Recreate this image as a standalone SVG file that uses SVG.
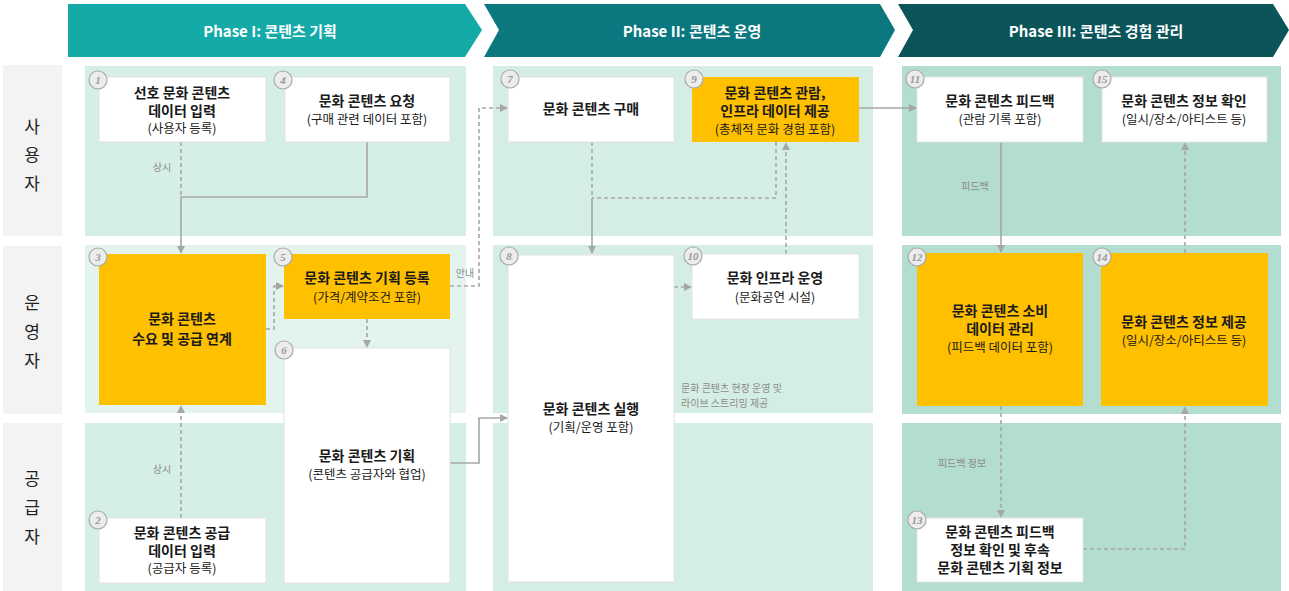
<svg xmlns="http://www.w3.org/2000/svg" width="1289" height="591" viewBox="0 0 1289 591">
<style>
text{font-family:"Noto Sans CJK KR","Noto Sans",sans-serif;}
.hdr{fill:#fff;font-size:15px;font-weight:bold;text-anchor:middle;dominant-baseline:central;}
.lane{fill:#222;font-size:17px;text-anchor:middle;dominant-baseline:central;}
.t{fill:#1a1a1a;font-size:14px;font-weight:bold;text-anchor:middle;dominant-baseline:central;}
.s{fill:#1a1a1a;font-size:12.5px;text-anchor:middle;dominant-baseline:central;}
.lbl{fill:#8c8c8c;font-size:10px;text-anchor:middle;dominant-baseline:central;}
.lbl2{fill:#8c8c8c;font-size:10px;dominant-baseline:central;}
.w{fill:#fff;stroke:#e2e2e2;stroke-width:1;}
.o{fill:#ffc000;}
.badge circle{fill:#ececec;stroke:#a9a9a9;stroke-width:1.2;}
.badge text{font-family:"Liberation Serif",serif;font-style:italic;font-weight:bold;font-size:11px;fill:#999;text-anchor:middle;dominant-baseline:central;}
.ln{fill:none;stroke:#a6a6a6;stroke-width:1.6;}
.d{stroke-dasharray:4 3;}
</style>
<defs>
<marker id="ah" markerWidth="8" markerHeight="8" refX="7" refY="4" orient="auto" markerUnits="userSpaceOnUse">
<path d="M0,0 L8,4 L0,8 z" fill="#a6a6a6"/>
</marker>
</defs>
<rect width="1289" height="591" fill="#fff"/>

<!-- headers -->
<g id="headers">
<polygon points="68,4 465,4 482,30 465,57 68,57" fill="#14aaa7"/>
<polygon points="484,4 880,4 895,30 880,57 484,57 499,30" fill="#0b7880"/>
<polygon points="898,4 1273,4 1289,30 1273,57 898,57 913,30" fill="#0b555a"/>
<text class="hdr" x="270" y="30">Phase I: 콘텐츠 기획</text>
<text class="hdr" x="692" y="30">Phase II: 콘텐츠 운영</text>
<text class="hdr" x="1096" y="30">Phase III: 콘텐츠 경험 관리</text>
</g>

<!-- lane labels -->
<g id="lanes">
<rect x="3" y="65" width="59" height="171" fill="#f3f3f3"/>
<rect x="3" y="246" width="59" height="168" fill="#f3f3f3"/>
<rect x="3" y="423" width="59" height="168" fill="#f3f3f3"/>
<text class="lane" x="32" y="125">사</text>
<text class="lane" x="32" y="153">용</text>
<text class="lane" x="32" y="182">자</text>
<text class="lane" x="32" y="301">운</text>
<text class="lane" x="32" y="330">영</text>
<text class="lane" x="32" y="359">자</text>
<text class="lane" x="32" y="477">공</text>
<text class="lane" x="32" y="506">급</text>
<text class="lane" x="32" y="535">자</text>
<!-- lane backgrounds -->
<rect x="85" y="66" width="381" height="170" fill="#d6efe6"/>
<rect x="85" y="245" width="381" height="168" fill="#e3f4ef"/>
<rect x="85" y="423" width="381" height="168" fill="#d6efe6"/>
<rect x="493" y="66" width="380" height="170" fill="#d4eee5"/>
<rect x="493" y="245" width="380" height="168" fill="#d4eee5"/>
<rect x="493" y="423" width="380" height="168" fill="#d4eee5"/>
<rect x="902" y="66" width="379" height="170" fill="#b3ddd0"/>
<rect x="902" y="245" width="379" height="169" fill="#b3ddd0"/>
<rect x="902" y="423" width="379" height="168" fill="#b3ddd0"/>
</g>

<!-- connectors -->
<g id="connectors">
<path class="ln d" d="M181,142 V197"/>
<path class="ln" d="M367,142 V197 H181 V253" marker-end="url(#ah)"/>
<path class="ln d" d="M181,518 V406" marker-end="url(#ah)"/>
<path class="ln d" d="M266,329 H274 V286 H283" marker-end="url(#ah)"/>
<path class="ln d" d="M367,319 V347" marker-end="url(#ah)"/>
<path class="ln d" d="M450,286 H479 V108 H507" marker-end="url(#ah)"/>
<path class="ln" d="M450,463 H479 V418 H507" marker-end="url(#ah)"/>
<path class="ln d" d="M592,142 V198"/>
<path class="ln d" d="M776,142 V198 H592"/>
<path class="ln" d="M592,198 V253" marker-end="url(#ah)"/>
<path class="ln d" d="M786,254 V143" marker-end="url(#ah)"/>
<path class="ln d" d="M674,287 H691" marker-end="url(#ah)"/>
<path class="ln" d="M858,108 H916" marker-end="url(#ah)"/>
<path class="ln" d="M1001,142 V252" marker-end="url(#ah)"/>
<path class="ln d" d="M1001,406 V517" marker-end="url(#ah)"/>
<path class="ln d" d="M1083,549 H1185 V407" marker-end="url(#ah)"/>
<path class="ln d" d="M1185,253 V143" marker-end="url(#ah)"/>
<text class="lbl" x="162" y="166">상시</text>
<text class="lbl" x="162" y="468">상시</text>
<text class="lbl" x="465" y="272">안내</text>
<text class="lbl" x="975" y="185">피드백</text>
<text class="lbl" x="962" y="462">피드백 정보</text>
<text class="lbl2" x="681" y="387">문화 콘텐츠 현장 운영 및</text>
<text class="lbl2" x="681" y="402">라이브 스트리밍 제공</text>
</g>

<!-- nodes -->
<g id="n1">
<rect class="w" x="99" y="77" width="167" height="65"/>
<text class="t" x="182" y="92">선호 문화 콘텐츠</text>
<text class="t" x="182" y="110">데이터 입력</text>
<text class="s" x="182" y="127">(사용자 등록)</text>
<g class="badge"><circle cx="98" cy="80" r="9"/><text x="98" y="80">1</text></g>
</g>
<g id="n4">
<rect class="w" x="285" y="77" width="165" height="65"/>
<text class="t" x="367" y="100">문화 콘텐츠 요청</text>
<text class="s" x="367" y="118">(구매 관련 데이터 포함)</text>
<g class="badge"><circle cx="283" cy="80" r="9"/><text x="283" y="80">4</text></g>
</g>
<g id="n3">
<rect class="o" x="99" y="254" width="167" height="151"/>
<text class="t" x="182" y="318">문화 콘텐츠</text>
<text class="t" x="182" y="338">수요 및 공급 연계</text>
<g class="badge"><circle cx="98" cy="257" r="9"/><text x="98" y="257">3</text></g>
</g>
<g id="n5">
<rect class="o" x="284" y="254" width="166" height="65"/>
<text class="t" x="367" y="277">문화 콘텐츠 기획 등록</text>
<text class="s" x="367" y="296">(가격/계약조건 포함)</text>
<g class="badge"><circle cx="283" cy="257" r="9"/><text x="283" y="257">5</text></g>
</g>
<g id="n6">
<rect class="w" x="284" y="348" width="166" height="235"/>
<text class="t" x="367" y="455">문화 콘텐츠 기획</text>
<text class="s" x="367" y="473">(콘텐츠 공급자와 협업)</text>
<g class="badge"><circle cx="284" cy="350" r="9"/><text x="284" y="350">6</text></g>
</g>
<g id="n2">
<rect class="w" x="99" y="518" width="167" height="65"/>
<text class="t" x="182" y="532">문화 콘텐츠 공급</text>
<text class="t" x="182" y="550">데이터 입력</text>
<text class="s" x="182" y="567">(공급자 등록)</text>
<g class="badge"><circle cx="98" cy="520" r="9"/><text x="98" y="520">2</text></g>
</g>
<g id="n7">
<rect class="w" x="508" y="77" width="166" height="65"/>
<text class="t" x="591" y="108">문화 콘텐츠 구매</text>
<g class="badge"><circle cx="510" cy="79" r="9"/><text x="510" y="79">7</text></g>
</g>
<g id="n9">
<rect class="o" x="692" y="77" width="167" height="65"/>
<text class="t" x="775" y="92">문화 콘텐츠 관람,</text>
<text class="t" x="775" y="110">인프라 데이터 제공</text>
<text class="s" x="775" y="128">(총체적 문화 경험 포함)</text>
<g class="badge"><circle cx="694" cy="79" r="9"/><text x="694" y="79">9</text></g>
</g>
<g id="n8">
<rect class="w" x="508" y="255" width="166" height="327"/>
<text class="t" x="591" y="408">문화 콘텐츠 실행</text>
<text class="s" x="591" y="426">(기획/운영 포함)</text>
<g class="badge"><circle cx="509" cy="256" r="9"/><text x="509" y="256">8</text></g>
</g>
<g id="n10">
<rect class="w" x="692" y="254" width="167" height="65"/>
<text class="t" x="775" y="277">문화 인프라 운영</text>
<text class="s" x="775" y="296">(문화공연 시설)</text>
<g class="badge"><circle cx="693" cy="256" r="9"/><text x="693" y="256">10</text></g>
</g>
<g id="n11">
<rect class="w" x="917" y="77" width="166" height="65"/>
<text class="t" x="1000" y="100">문화 콘텐츠 피드백</text>
<text class="s" x="1000" y="118">(관람 기록 포함)</text>
<g class="badge"><circle cx="915" cy="79" r="9"/><text x="915" y="79">11</text></g>
</g>
<g id="n15">
<rect class="w" x="1102" y="77" width="165" height="65"/>
<text class="t" x="1184" y="100">문화 콘텐츠 정보 확인</text>
<text class="s" x="1184" y="118">(일시/장소/아티스트 등)</text>
<g class="badge"><circle cx="1102" cy="79" r="9"/><text x="1102" y="79">15</text></g>
</g>
<g id="n12">
<rect class="o" x="917" y="253" width="166" height="153"/>
<text class="t" x="1000" y="310">문화 콘텐츠 소비</text>
<text class="t" x="1000" y="328">데이터 관리</text>
<text class="s" x="1000" y="346">(피드백 데이터 포함)</text>
<g class="badge"><circle cx="917" cy="257" r="9"/><text x="917" y="257">12</text></g>
</g>
<g id="n14">
<rect class="o" x="1101" y="253" width="167" height="153"/>
<text class="t" x="1184" y="321">문화 콘텐츠 정보 제공</text>
<text class="s" x="1184" y="339">(일시/장소/아티스트 등)</text>
<g class="badge"><circle cx="1102" cy="257" r="9"/><text x="1102" y="257">14</text></g>
</g>
<g id="n13">
<rect class="w" x="917" y="518" width="166" height="64"/>
<text class="t" x="1000" y="531">문화 콘텐츠 피드백</text>
<text class="t" x="1000" y="549">정보 확인 및 후속</text>
<text class="t" x="1000" y="567">문화 콘텐츠 기획 정보</text>
<g class="badge"><circle cx="917" cy="520" r="9"/><text x="917" y="520">13</text></g>
</g>
</svg>
